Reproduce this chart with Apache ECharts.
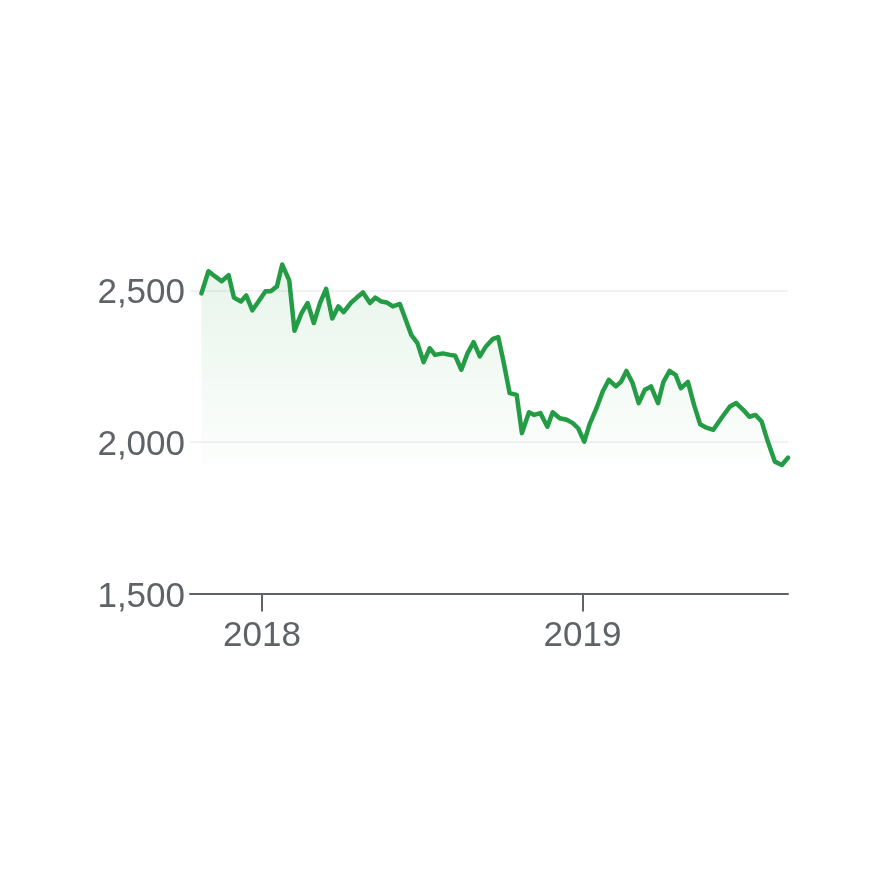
<!DOCTYPE html>
<html>
<head>
<meta charset="utf-8">
<script src="https://cdn.jsdelivr.net/npm/echarts@6/dist/echarts.min.js"></script>
<style>
html,body{margin:0;padding:0;background:#fff;}
#chart{width:876px;height:878px;}
</style>
</head>
<body>
<div id="chart"></div>
<script>
const dates = [
'2017-10-24','2017-11-01','2017-11-09','2017-11-16','2017-11-24','2017-11-30','2017-12-08','2017-12-14','2017-12-21','2017-12-28',
'2018-01-05','2018-01-11','2018-01-18','2018-01-24','2018-02-01','2018-02-07','2018-02-15','2018-02-22','2018-03-01','2018-03-08',
'2018-03-15','2018-03-22','2018-03-29','2018-04-04','2018-04-12','2018-04-19','2018-04-26','2018-05-04','2018-05-10','2018-05-17',
'2018-05-23','2018-05-30','2018-06-07','2018-06-13','2018-06-20','2018-06-27','2018-07-04','2018-07-11','2018-07-17','2018-07-26',
'2018-08-03','2018-08-09','2018-08-16','2018-08-23','2018-08-30','2018-09-06','2018-09-13','2018-09-21','2018-09-27','2018-10-03',
'2018-10-10','2018-10-18','2018-10-24','2018-11-01','2018-11-07','2018-11-14','2018-11-22','2018-11-28','2018-12-06','2018-12-14',
'2018-12-21','2018-12-27','2019-01-03','2019-01-09','2019-01-17','2019-01-24','2019-01-31','2019-02-08','2019-02-14','2019-02-20',
'2019-02-27','2019-03-06','2019-03-13','2019-03-20','2019-03-28','2019-04-03','2019-04-10','2019-04-17','2019-04-23','2019-05-01',
'2019-05-08','2019-05-15','2019-05-22','2019-05-30','2019-06-08','2019-06-18','2019-06-25','2019-07-03','2019-07-10','2019-07-17',
'2019-07-24','2019-07-31','2019-08-08','2019-08-16','2019-08-23'
];
const values = [
2490,2563,2545,2530,2550,2476,2463,2483,2434,2463,
2497,2497,2513,2585,2533,2367,2425,2458,2392,2458,
2505,2407,2447,2428,2458,2476,2493,2458,2476,2463,
2460,2447,2455,2408,2353,2326,2263,2309,2287,2292,
2287,2284,2238,2292,2329,2282,2315,2340,2346,2265,
2161,2155,2029,2098,2089,2095,2050,2098,2078,2073,
2062,2045,2001,2058,2112,2166,2205,2183,2199,2234,
2194,2128,2172,2183,2128,2197,2234,2221,2177,2198,
2122,2058,2047,2040,2078,2117,2128,2106,2083,2089,
2067,2001,1935,1924,1948
];
const yTicks = [1500, 2000, 2500];
const xTickLabels = ['2018-01-01', '2019-01-01'];
const xMin = '2017-10-11';
const xMax = '2019-08-23';

const ts = s => new Date(s + 'T00:00:00Z').getTime();
const chart = echarts.init(document.getElementById('chart'));
const textColor = '#5f6368';
chart.setOption({
  animation: false,
  grid: {left: 190, right: 88, top: 260, bottom: 284.5, containLabel: false},
  xAxis: {
    type: 'value',
    min: ts(xMin), max: ts(xMax),
    axisLine: {show: true, lineStyle: {color: '#5f6368', width: 2}},
    axisTick: {show: true, length: 18, lineStyle: {color: '#5f6368', width: 2}, customValues: xTickLabels.map(ts)},
    axisLabel: {
      customValues: xTickLabels.map(ts),
      formatter: v => String(new Date(v).getUTCFullYear()),
      color: textColor, fontSize: 35, fontFamily: 'Liberation Sans, Arial, sans-serif', margin: 25
    },
    splitLine: {show: false}
  },
  yAxis: {
    type: 'value',
    min: 1500, max: 2600, interval: 500,
    axisLine: {show: false},
    axisTick: {show: false},
    axisLabel: {
      showMaxLabel: false,
      formatter: v => yTicks.includes(v) ? v.toLocaleString('en-US') : '',
      color: textColor, fontSize: 35, fontFamily: 'Liberation Sans, Arial, sans-serif', margin: 5,
      verticalAlign: 'top', lineHeight: 35, padding: [-14, 0, 0, 0]
    },
    splitLine: {show: true, showMaxLine: false, showMinLine: false, lineStyle: {color: '#eeeeee', width: 1.5}}
  },
  series: [{
    type: 'line',
    data: dates.map((d, i) => [ts(d), values[i]]),
    showSymbol: false,
    smooth: false,
    lineStyle: {color: '#239c45', width: 4.5, join: 'round', cap: 'round'},
    areaStyle: {
      color: new echarts.graphic.LinearGradient(0, 0, 0, 1, [
        {offset: 0, color: 'rgba(52,168,83,0.17)'},
        {offset: 0.6, color: 'rgba(52,168,83,0.02)'},
        {offset: 0.61, color: 'rgba(52,168,83,0)'},
        {offset: 1, color: 'rgba(52,168,83,0)'}
      ])
    }
  }]
});
</script>
</body>
</html>
